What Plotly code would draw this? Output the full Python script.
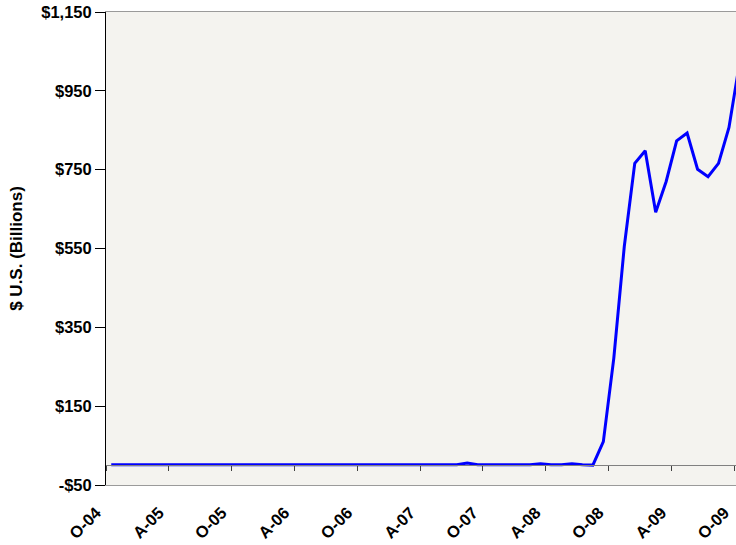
import plotly.graph_objects as go

# Monthly observations, Oct 2004 (index 0) onwards; values in $ billions
months = list(range(61))
values = ([1.5] * 34 + [6] + [1.5] * 6 + [4, 1.5, 1.5, 4, 1.5, 0.5, 60, 272, 555, 766, 798, 642,
          720, 823, 843, 751, 732, 766, 857, 1020])

tick_pos = [m - 0.5 for m in range(0, 61, 6)]
tick_text = ["O-04", "A-05", "O-05", "A-06", "O-06", "A-07", "O-07", "A-08", "O-08", "A-09", "O-09"]
y_ticks = [-50, 150, 350, 550, 750, 950, 1150]
y_text = ["-$50", "$150", "$350", "$550", "$750", "$950", "$1,150"]

PAD = "\u00a0\u00a0\u00a0"   # nudges the rotated labels so they end just left of each tick
FAM = "Liberation Sans, Arial"
bold = dict(family=FAM, size=16.5, color="black", weight="bold")
x_range = [-0.5, 59.67]
y_range = [-50, 1150]

fig = go.Figure()
fig.add_trace(go.Scatter(x=months, y=values, mode="lines",
                         line=dict(color="#0000FF", width=3), showlegend=False))
# invisible trace to activate the zero-crossing axis
fig.add_trace(go.Scatter(x=[months[0]], y=[values[0]], xaxis="x2", mode="markers",
                         marker=dict(opacity=0), showlegend=False, hoverinfo="skip"))

fig.update_layout(
    width=736, height=545,
    margin=dict(l=106, r=0, t=12, b=60, autoexpand=False),
    paper_bgcolor="white",
    plot_bgcolor="#F4F3EF",
    font=dict(family=FAM, size=16, color="black"),
    xaxis=dict(range=x_range, tickmode="array", tickvals=tick_pos,
               ticktext=[t + PAD for t in tick_text],
               tickangle=-45, ticks="", showgrid=False, zeroline=False, automargin=False,
               showline=True, linecolor="#9a9a9a", linewidth=1, mirror=True,
               ticklabelstandoff=1, tickfont=bold, ticklabeloverflow="allow"),
    xaxis2=dict(range=x_range, overlaying="x", anchor="free", position=50 / 1200,
                tickmode="array", tickvals=tick_pos, showticklabels=False, automargin=False,
                ticks="outside", ticklen=5, tickcolor="#404040", tickwidth=1,
                showline=True, linecolor="#808080", linewidth=1, showgrid=False, zeroline=False),
    yaxis=dict(range=y_range, tickmode="array", tickvals=y_ticks, ticktext=y_text,
               ticks="outside", ticklen=10, tickcolor="black", showgrid=False, zeroline=False,
               showline=True, linecolor="black", linewidth=1, tickfont=bold, automargin=False,
               ticklabeloverflow="allow",
               title=dict(text="$ U.S. (Billions)", standoff=14,
                          font=dict(family=FAM, size=17, color="black", weight="bold"))),
)

fig.write_html("out.html", config={"displayModeBar": False},
               post_script="document.body.style.margin='0';document.body.style.overflow='hidden';")
